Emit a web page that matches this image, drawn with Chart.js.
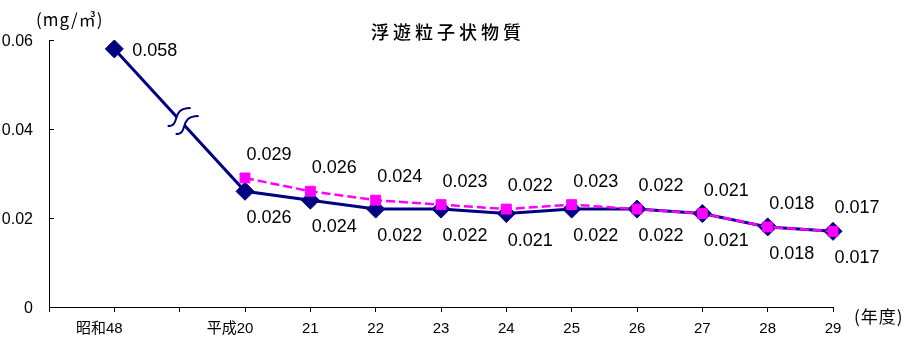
<!DOCTYPE html>
<html>
<head>
<meta charset="utf-8">
<script src="https://cdn.jsdelivr.net/npm/chart.js@4"></script>
<style>
  html, body { margin: 0; padding: 0; background: #fff; }
  #wrap { width: 919px; height: 363px; position: relative; }
</style>
</head>
<body>
<div id="wrap"><canvas id="spmChart"></canvas></div>
<script>
// 年度（先頭と昭和48の次は空き）
const years = ['', '昭和48', '', '平成20', '21', '22', '23', '24', '25', '26', '27', '28', '29'];
// 一般局（紺）
const generalValues = [null, 0.058, null, 0.026, 0.024, 0.022, 0.022, 0.021, 0.022, 0.022, 0.021, 0.018, 0.017];
// 自排局（マゼンタ）
const roadsideValues = [null, null, null, 0.029, 0.026, 0.024, 0.023, 0.022, 0.023, 0.022, 0.021, 0.018, 0.017];
const yTicks = [0, 0.02, 0.04, 0.06];

const NAVY = '#000080';
const PINK = '#ff00ff';
const FONT = '"Liberation Sans", "Noto Sans CJK JP", sans-serif';

// 波線、数値ラベル、タイトル等
const chartText = {
  id: 'chartText',
  afterDatasetsDraw(chart) {
    const ctx = chart.ctx;
    const area = chart.chartArea;
    const yScale = chart.scales.y;
    ctx.save();

    // y軸の内向き目盛
    ctx.strokeStyle = '#000';
    ctx.lineWidth = 1;
    yTicks.forEach(v => {
      const py = Math.round(yScale.getPixelForValue(v)) + 0.5;
      ctx.beginPath();
      ctx.moveTo(area.left, py);
      ctx.lineTo(area.left + 5, py);
      ctx.stroke();
    });

    // 省略の波線
    const navPts = chart.getDatasetMeta(0).data;
    const sCurve = (cx, cy) => {
      ctx.moveTo(cx - 12, cy + 6);
      ctx.bezierCurveTo(cx + 2, cy + 6, cx - 10, cy - 12, cx + 11, cy - 12);
    };
    const sCurveBack = (cx, cy) => {
      ctx.lineTo(cx + 11, cy - 12);
      ctx.bezierCurveTo(cx - 10, cy - 12, cx + 2, cy + 6, cx - 12, cy + 6);
    };
    for (let i = 1; i < generalValues.length - 1; i++) {
      if (generalValues[i] === null && generalValues[i - 1] !== null && generalValues[i + 1] !== null) {
        const a = navPts[i - 1], b = navPts[i + 1];
        const mx = (a.x + b.x) / 2, my = (a.y + b.y) / 2;
        ctx.beginPath();
        sCurve(mx, my);
        sCurveBack(mx + 8, my + 8);
        ctx.closePath();
        ctx.fillStyle = '#fff';
        ctx.fill();
        ctx.strokeStyle = NAVY;
        ctx.lineWidth = 2;
        ctx.beginPath();
        sCurve(mx, my);
        ctx.stroke();
        ctx.beginPath();
        sCurve(mx + 8, my + 8);
        ctx.stroke();
      }
    }

    // 数値ラベル
    ctx.fillStyle = '#000';
    ctx.font = '18px ' + FONT;
    ctx.textBaseline = 'middle';
    generalValues.forEach((v, i) => {
      if (v === null) return;
      const p = navPts[i];
      if (roadsideValues[i] === null) {
        ctx.textAlign = 'left';
        ctx.fillText(v.toFixed(3), p.x + 18, p.y + 2);
      } else {
        ctx.textAlign = 'center';
        ctx.fillText(v.toFixed(3), p.x + 24, p.y + 27);
      }
    });
    const pinkPts = chart.getDatasetMeta(1).data;
    roadsideValues.forEach((v, i) => {
      if (v === null) return;
      const p = pinkPts[i];
      ctx.textAlign = 'center';
      ctx.fillText(v.toFixed(3), p.x + 24, p.y - 23);
    });

    // タイトル・単位
    ctx.font = '500 18px "Noto Sans CJK JP", sans-serif';
    ctx.letterSpacing = '4px';
    ctx.textAlign = 'center';
    ctx.fillText('浮遊粒子状物質', (area.left + area.right) / 2 + 7, 32);
    ctx.font = '17px "Noto Sans CJK JP", sans-serif';
    ctx.letterSpacing = '1px';
    ctx.textAlign = 'left';
    ctx.fillText('(mg/㎥)', 36, 20);
    ctx.fillText('(年度)', 854, 317);
    ctx.restore();
  }
};

new Chart(document.getElementById('spmChart'), {
  type: 'line',
  data: {
    labels: years,
    datasets: [
      {
        label: '一般局',
        data: generalValues,
        borderColor: NAVY,
        backgroundColor: NAVY,
        borderWidth: 3,
        pointStyle: 'rectRot',
        pointRadius: 9,
        pointBorderWidth: 1,
        spanGaps: true,
        tension: 0,
        order: 1
      },
      {
        label: '自排局',
        data: roadsideValues,
        borderColor: PINK,
        backgroundColor: PINK,
        borderWidth: 2.5,
        borderDash: [9, 4],
        pointStyle: 'rect',
        pointRadius: 7,
        pointBorderWidth: 1,
        tension: 0,
        order: 0
      }
    ]
  },
  options: {
    responsive: true,
    maintainAspectRatio: false,
    animation: false,
    layout: { padding: { top: 40, right: 86, left: 0, bottom: 0 } },
    plugins: {
      legend: { display: false },
      title: { display: false },
      tooltip: { enabled: false }
    },
    scales: {
      x: {
        type: 'category',
        offset: false,
        afterFit: s => { s.height = 56; },
        grid: { display: true, drawOnChartArea: false, drawTicks: true, tickLength: 5, color: '#000' },
        border: { display: true, color: '#000', width: 1 },
        ticks: {
          autoSkip: false,
          maxRotation: 0,
          padding: 8,
          color: '#000',
          font: { family: FONT, size: 15 },
          callback: function (val) {
            const l = this.getLabelForValue(val);
            return /^\D/.test(l) ? l + '\u3000\u3000' : l;
          }
        }
      },
      y: {
        min: 0,
        max: 0.06,
        afterFit: s => { s.width = 49; },
        afterBuildTicks: s => { s.ticks = yTicks.map(v => ({ value: v })); },
        grid: { display: true, drawOnChartArea: false, drawTicks: false },
        border: { display: true, color: '#000', width: 1 },
        ticks: {
          padding: 16,
          labelOffset: 2,
          color: '#000',
          font: { family: FONT, size: 16 },
          callback: v => String(Math.round(v * 100) / 100)
        }
      }
    }
  },
  plugins: [chartText]
});
</script>
</body>
</html>
